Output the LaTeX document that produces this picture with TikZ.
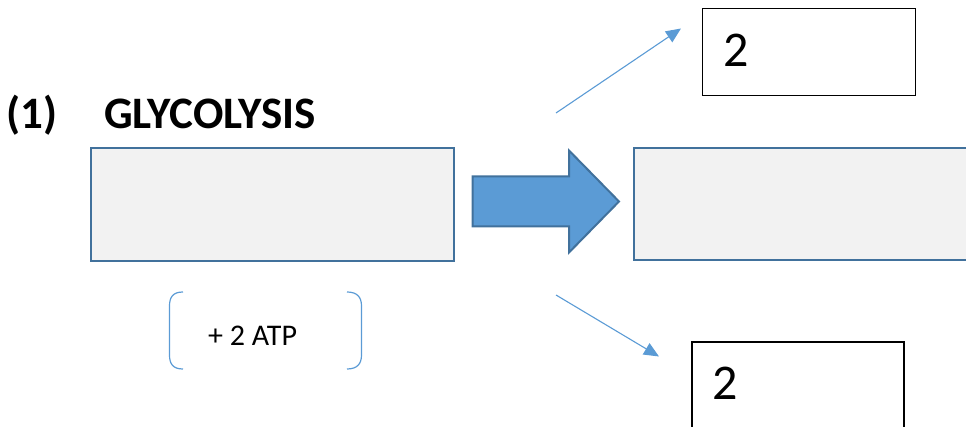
\documentclass[tikz,border=0pt]{standalone}
\usepackage{fontspec}
\setmainfont{Carlito}
\usetikzlibrary{arrows.meta}
\definecolor{boxedge}{HTML}{41719C}
\definecolor{boxfill}{HTML}{F2F2F2}
\definecolor{arrowfill}{HTML}{5B9BD5}
\tikzset{
  graybox/.style={draw=boxedge, fill=boxfill, line width=2.3pt},
  numbox/.style={draw=black, line width=1.2pt},
  thinarrow/.style={draw=arrowfill, line width=1.1pt, -{Triangle[length=15pt,width=13pt]}},
  bigtext/.style={font=\fontsize{45}{45}\selectfont\bfseries, inner sep=0pt, anchor=base west},
  numtext/.style={font=\fontsize{50}{50}\selectfont, inner sep=0pt, anchor=base west},
  smalltext/.style={font=\fontsize{30}{30}\selectfont, inner sep=0pt, anchor=base west},
  bracket/.style={draw=arrowfill, line width=1.2pt}
}
\begin{document}
\begin{tikzpicture}[x=1pt,y=-1pt]
\clip (0,0) rectangle (966,427);
% title
\node[bigtext] (num) at (6,129) {(1)};
\node[bigtext] (title) at (104,129) {GLYCOLYSIS};
% boxes
\draw[graybox] (91,148) rectangle (454,261);
\node (leftbox) at (272.5,204.5) {};
\draw[graybox] (634,148) rectangle (1000,260);
\node (rightbox) at (800,204) {};
% big arrow
\draw[draw=boxedge, fill=arrowfill, line width=2pt, line join=miter]
  (472.5,176.5) -- (569,176.5) -- (569,150.5) -- (619,201.5) -- (569,252.5) -- (569,226.5) -- (472.5,226.5) -- cycle;
% number boxes
\draw[numbox] (702.5,8.5) rectangle (915.5,95.5);
\node[numtext] (topnum) at (723,67) {2};
\draw[numbox] (692,342) rectangle (904,440);
\node[numtext] (botnum) at (712,399) {2};
% thin arrows
\coordinate (upstart) at (556,113);
\coordinate (uptip) at (681,28.5);
\coordinate (downstart) at (556,295);
\coordinate (downtip) at (659,356.5);
\draw[thinarrow] (upstart) -- (uptip);
\draw[thinarrow] (downstart) -- (downtip);
% brackets
\draw[bracket] (183,292) .. controls (173,292) and (169.5,297) .. (169.5,306) -- (169.5,355) .. controls (169.5,364) and (173,369) .. (183,369);
\draw[bracket] (347,292) .. controls (357,292) and (361.5,297) .. (361.5,306) -- (361.5,355) .. controls (361.5,364) and (357,369) .. (347,369);
\node[smalltext] (atp) at (208,345) {+ 2 ATP};
\end{tikzpicture}
\end{document}
